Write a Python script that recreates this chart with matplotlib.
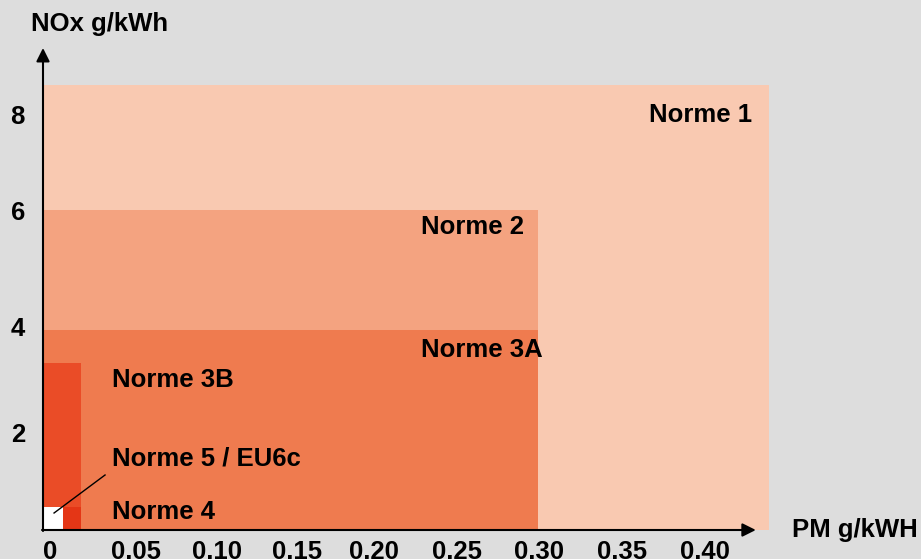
import matplotlib.pyplot as plt

normes = ["Norme 1", "Norme 2", "Norme 3A", "Norme 3B", "Norme 4", "Norme 5 / EU6c"]
pm_max = [0.44, 0.30, 0.30, 0.023, 0.023, 0.012]
nox_max = [8.9, 6.4, 4.0, 3.35, 0.47, 0.47]
couleurs = ["#f9c9b1", "#f4a380", "#ef7b4f", "#ea4c27", "#e43616", "#ffffff"]

# positions des etiquettes (x, y)
label_x = [0.367, 0.229, 0.229, 0.0418, 0.0418, 0.0418]
label_y = [8.3, 6.06, 3.6, 3.0, 0.36, 1.44]

# graduations (le schema n'est pas tout a fait a l'echelle)
x_ticks = [0, 0.0564, 0.1055, 0.1539, 0.2006, 0.2509, 0.3006, 0.3509, 0.4012]
x_labels = ["0", "0,05", "0,10", "0,15", "0,20", "0,25", "0,30", "0,35", "0,40"]
y_ticks = [1.94, 4.06, 6.38, 8.3]
y_labels = ["2", "4", "6", "8"]

plt.rcParams['font.family'] = ['Liberation Sans', 'DejaVu Sans']
plt.rcParams['font.weight'] = 'bold'
fs = 18.5

fig = plt.figure(figsize=(9.21, 5.59), dpi=100)
fig.patch.set_facecolor("#dddddd")
ax = fig.add_axes([43 / 921, 29 / 559, 878 / 921, 530 / 559])
ax.set_facecolor("#dddddd")
ax.set_xlim(0, 878 / 1650)
ax.set_ylim(0, 10.6)

ax.bar(0, nox_max, width=pm_max, align='edge', color=couleurs, linewidth=0, zorder=1)

for i, nom in enumerate(normes):
    ax.text(label_x[i], label_y[i], nom, fontsize=fs, fontweight='bold',
            va='center', ha='left', zorder=5)

# trait vers la norme 5
ax.plot([0.0067, 0.0376], [0.34, 1.1], color='black', lw=1, zorder=4)

# axes avec fleches
for s in ax.spines.values():
    s.set_visible(False)
ax.annotate("", xy=(0.432, 0), xytext=(-0.0006, 0),
            arrowprops=dict(arrowstyle='-|>', lw=1.5, color='black', mutation_scale=20,
                            shrinkA=0, shrinkB=0), annotation_clip=False, zorder=6)
ax.annotate("", xy=(0, 9.64), xytext=(0, -0.02),
            arrowprops=dict(arrowstyle='-|>', lw=1.5, color='black', mutation_scale=20,
                            shrinkA=0, shrinkB=0), annotation_clip=False, zorder=6)

ax.set_xticks(x_ticks)
ax.set_xticklabels(x_labels, fontsize=fs, fontweight='bold')
ax.get_xticklabels()[0].set_ha('left')
ax.set_yticks(y_ticks)
ax.set_yticklabels(y_labels, fontsize=fs, fontweight='bold')
ax.tick_params(axis='x', length=0, pad=7)
ax.tick_params(axis='y', length=0, pad=13)

fig.text(31 / 921, 1 - 24 / 559, "NOx g/kWh", fontsize=fs, fontweight='bold', va='center', ha='left')
fig.text(792 / 921, 1 - 530 / 559, "PM g/kWH", fontsize=fs, fontweight='bold', va='center', ha='left')

fig.savefig("out.png", dpi=100, facecolor=fig.get_facecolor())
